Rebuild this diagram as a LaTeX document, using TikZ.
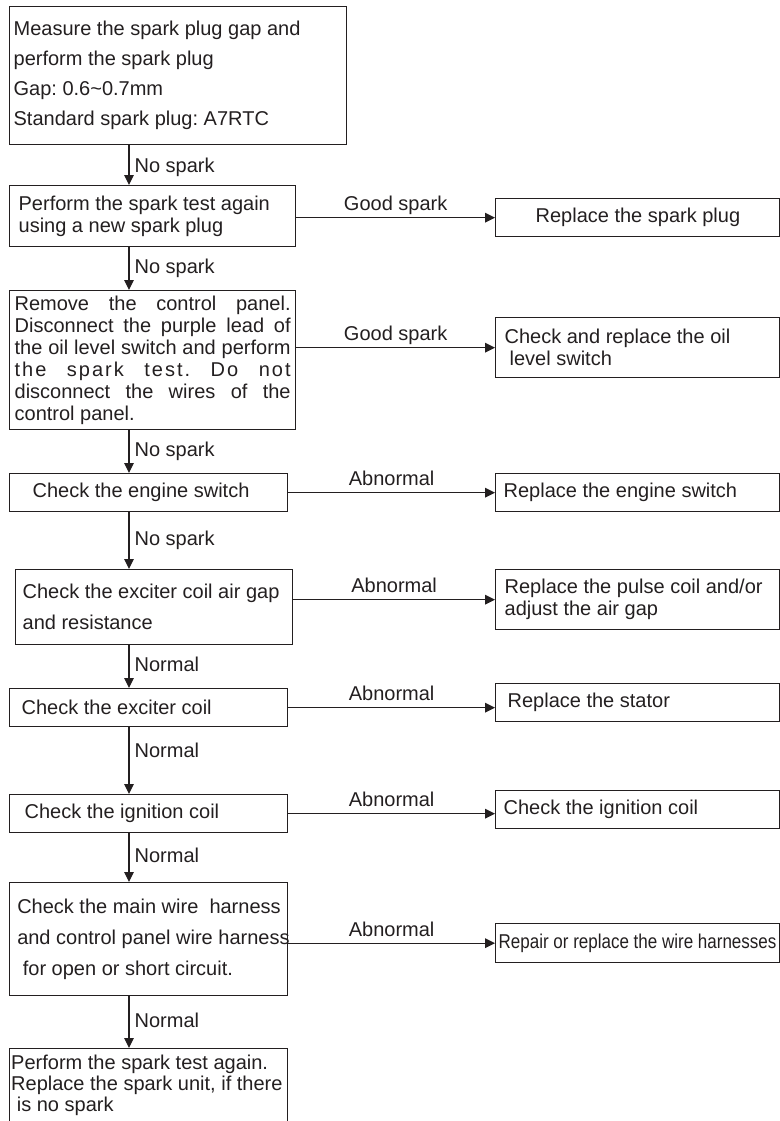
\documentclass[tikz,border=0pt]{standalone}
\usepackage{fontspec}
\usepackage{graphicx}
\setmainfont{Liberation Sans}
\frenchspacing
\usetikzlibrary{arrows.meta}
\definecolor{ink}{HTML}{231F20}
\newcommand{\spread}[1]{\makebox[138pt][s]{#1}}

\begin{document}
\begin{tikzpicture}[x=1pt,y=-1pt,line width=0.65pt,
  stepbox/.style={draw=ink,text=ink,anchor=north west,align=left,inner ysep=0pt,
    execute at begin node={\spaceskip=0pt\xspaceskip=0pt}},
  fixbox/.style={stepbox,minimum width=142pt,text width=133pt,inner xsep=4.5pt},
  lead/.style={font=\fontsize{10}{#1}\selectfont},
  flow/.style={draw=ink,-{Triangle[length=5pt,width=4.8pt]}},
  lbl/.style={text=ink,inner sep=1pt,text height=7.3pt,text depth=2.1pt}]
  \useasboundingbox (0,0) rectangle (390,560.5);
  \clip (0,0) rectangle (390,560.5);
  \coordinate (spine) at (64.5,0);

  \node[stepbox,lead=15,minimum width=168.5pt,minimum height=69pt,text width=164.5pt,inner xsep=2pt] (plug) at (4.5,3)
    {Measure the spark plug gap and\\perform the spark plug\\Gap: 0.6\textasciitilde0.7mm\\Standard spark plug: A7RTC};
  \node[stepbox,lead=11,minimum width=143pt,minimum height=30.5pt,text width=134pt,inner xsep=4.5pt] (newplug) at (4.5,92.5)
    {Perform the spark test again\\using a new spark plug};
  \node[stepbox,lead=11,minimum width=143pt,minimum height=69.5pt,text width=138pt,inner xsep=2.5pt] (panel) at (4.5,145)
    {\spread{Remove the control panel.}\\
     \spread{Disconnect the purple lead of}\\
     \spread{the oil level switch and perform}\\
     {\addfontfeatures{LetterSpace=10}\spread{the spark test. Do not}}\\
     \spread{disconnect the wires of the}\\
     control panel.};
  \node[stepbox,minimum width=139pt,minimum height=19pt,text width=116pt,inner xsep=11.5pt] (engsw) at (4.5,236.5)
    {Check the engine switch};
  \node[stepbox,lead=15.5,minimum width=138.5pt,minimum height=37.5pt,text width=131.5pt,inner xsep=3.5pt] (airgap) at (7.5,284.5)
    {Check the exciter coil air gap\\and resistance};
  \node[stepbox,minimum width=139pt,minimum height=19pt,text width=127pt,inner xsep=6pt] (exciter) at (4.5,344)
    {Check the exciter coil};
  \node[stepbox,minimum width=139pt,minimum height=19pt,text width=124pt,inner xsep=7.5pt] (igncoil) at (4.5,397)
    {Check the ignition coil};
  \node[stepbox,lead=15.5,minimum width=139pt,minimum height=56.5pt,text width=131.4pt,inner xsep=3.8pt] (harness) at (4.5,441)
    {\mbox{Check the main wire\ \ harness}\\\mbox{and control panel wire harness}\\\mbox{\hspace*{2.8pt}for open or short circuit.}};
  \node[stepbox,lead=10.5,minimum width=139pt,text width=137.4pt,inner xsep=0.8pt,inner ysep=3pt] (retest) at (4.5,524)
    {\mbox{Perform the spark test again.}\\\mbox{Replace the spark unit, if there}\\\mbox{\hspace*{2.8pt}is no spark}\\[24pt]\mbox{}};

  \node[fixbox,minimum height=19pt,text width=102pt,inner xsep=20pt] (rplug) at (247.5,99) {\mbox{Replace the spark plug}};
  \node[fixbox,lead=11,minimum height=30pt] (roil) at (247.5,158.5)
    {Check and replace the oil\\\hspace*{2.5pt}level switch};
  \node[fixbox,minimum height=19pt,text width=134pt,inner xsep=4pt] (rengsw) at (247.5,236.5) {Replace the engine switch};
  \node[fixbox,lead=11,minimum height=30pt] (rpulse) at (247.5,284.5)
    {Replace the pulse coil and/or\\adjust the air gap};
  \node[fixbox,minimum height=19pt,text width=130pt,inner xsep=6pt] (rstator) at (247.5,341.5) {Replace the stator};
  \node[fixbox,minimum height=19pt,text width=134pt,inner xsep=4pt] (rign) at (247.5,395) {Check the ignition coil};
  \node[fixbox,minimum height=19.5pt,text width=139pt,inner xsep=1.5pt] (rwires) at (247.5,461.5)
    {\scalebox{0.85}[1]{Repair or replace the wire harnesses}};

  \foreach \a/\b/\t/\p in {plug/newplug/No spark/0.55, newplug/panel/No spark/0.5,
      panel/engsw/No spark/0.5, engsw/airgap/No spark/0.5, airgap/exciter/Normal/0.5,
      exciter/igncoil/Normal/0.38, igncoil/harness/Normal/0.5, harness/retest/Normal/0.5}{
    \draw[flow] (\a.south -| spine) -- node[lbl,right,inner xsep=2.5pt,pos=\p] {\t} (\b.north -| spine);
  }
  \foreach \a/\b/\t/\s in {newplug/rplug/Good spark/rplug, panel/roil/Good spark/roil,
      engsw/rengsw/Abnormal/rengsw, airgap/rpulse/Abnormal/rpulse, exciter/rstator/Abnormal/exciter,
      igncoil/rign/Abnormal/igncoil, harness/rwires/Abnormal/rwires}{
    \draw[flow] (\a.east |- \s.center) -- node[lbl,above] {\t} (\b.west |- \s.center);
  }
\end{tikzpicture}
\end{document}
